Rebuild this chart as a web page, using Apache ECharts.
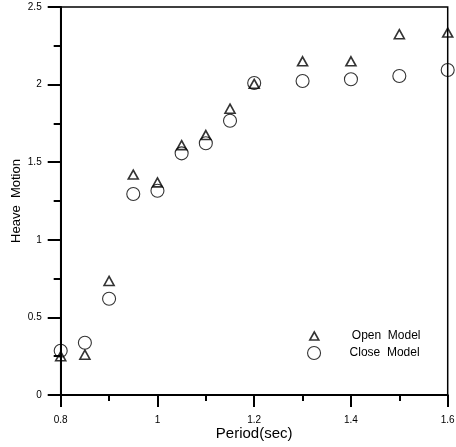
<!DOCTYPE html>
<html>
<head>
<meta charset="utf-8">
<script src="https://cdn.jsdelivr.net/npm/echarts@6/dist/echarts.min.js"></script>
<style>html,body{margin:0;padding:0;background:#fff}#c{width:456px;height:447px}</style>
</head>
<body>
<div id="c"></div>
<script>
var periods = [0.8, 0.85, 0.9, 0.95, 1.0, 1.05, 1.1, 1.15, 1.2, 1.3, 1.4, 1.5, 1.6];
var openModel = [0.25, 0.26, 0.735, 1.42, 1.37, 1.61, 1.675, 1.845, 2.005, 2.15, 2.15, 2.325, 2.335];
var closeModel = [0.285, 0.337, 0.62, 1.295, 1.316, 1.557, 1.622, 1.767, 2.01, 2.023, 2.034, 2.055, 2.094];
var xTitle = 'Period(sec)';
var yTitle = 'Heave  Motion';
var seriesNames = ['Open  Model', 'Close  Model'];

function pairs(xs, ys) { return xs.map(function (x, i) { return [x, ys[i]]; }); }

var font = 'Liberation Sans, Arial, sans-serif';
var chart = echarts.init(document.getElementById('c'), null, { renderer: 'canvas' });
chart.setOption({
  animation: false,
  backgroundColor: '#fff',
  grid: { left: 60.7, right: 8.3, top: 7, bottom: 52, show: true, borderColor: '#000', borderWidth: 1.5, outerBoundsMode: 'none', containLabel: false },
  xAxis: {
    type: 'value', min: 0.8, max: 1.6, interval: 0.2,
    name: xTitle, nameLocation: 'middle', nameGap: 31, nameMoveOverlap: false,
    nameTextStyle: { fontFamily: font, fontSize: 15, color: '#000' },
    axisLine: { show: true, onZero: false, lineStyle: { color: '#000', width: 2 } },
    axisTick: { show: true, inside: false, length: 12, lineStyle: { color: '#000', width: 2 } },
    minorTick: { show: true, splitNumber: 2, length: 6, lineStyle: { color: '#000', width: 2 } },
    splitLine: { show: false },
    axisLabel: { margin: 20, fontFamily: font, fontSize: 10, color: '#000', formatter: function (v) { return String(+v.toFixed(2)); } }
  },
  yAxis: {
    type: 'value', min: 0, max: 2.5, interval: 0.5,
    name: yTitle, nameLocation: 'middle', nameGap: 38, nameMoveOverlap: false,
    nameTextStyle: { fontFamily: font, fontSize: 13, color: '#000' },
    axisLine: { show: true, onZero: false, lineStyle: { color: '#000', width: 2 } },
    axisTick: { show: true, inside: false, length: 13, lineStyle: { color: '#000', width: 2 } },
    minorTick: { show: true, splitNumber: 2, length: 7, lineStyle: { color: '#000', width: 2 } },
    splitLine: { show: false },
    axisLabel: { margin: 19, fontFamily: font, fontSize: 10, color: '#000', formatter: function (v) { return String(+v.toFixed(2)); } }
  },
  legend: [
    {
      data: [seriesNames[0]], orient: 'vertical', left: 304, top: 325,
      itemWidth: 9, itemHeight: 8, icon: 'triangle',
      itemStyle: { borderWidth: 1.6 },
      textStyle: { fontFamily: font, fontSize: 12, color: '#000', padding: [0, 0, 0, 28] }
    },
    {
      data: [seriesNames[1]], orient: 'vertical', left: 302, top: 341,
      itemWidth: 13, itemHeight: 13, icon: 'circle',
      itemStyle: { borderWidth: 1.1 },
      textStyle: { fontFamily: font, fontSize: 12, color: '#000', padding: [0, 0, 0, 24] }
    }
  ],
  series: [
    {
      name: seriesNames[0], type: 'scatter', clip: false, symbol: 'triangle', symbolSize: [10, 9],
      itemStyle: { color: 'rgba(255,255,255,0)', borderColor: '#000', borderWidth: 1.6 },
      data: pairs(periods, openModel), z: 3
    },
    {
      name: seriesNames[1], type: 'scatter', clip: false, symbol: 'circle', symbolSize: 13,
      itemStyle: { color: 'rgba(255,255,255,0)', borderColor: '#000', borderWidth: 1.1 },
      data: pairs(periods, closeModel), z: 2
    }
  ]
});
</script>
</body>
</html>
